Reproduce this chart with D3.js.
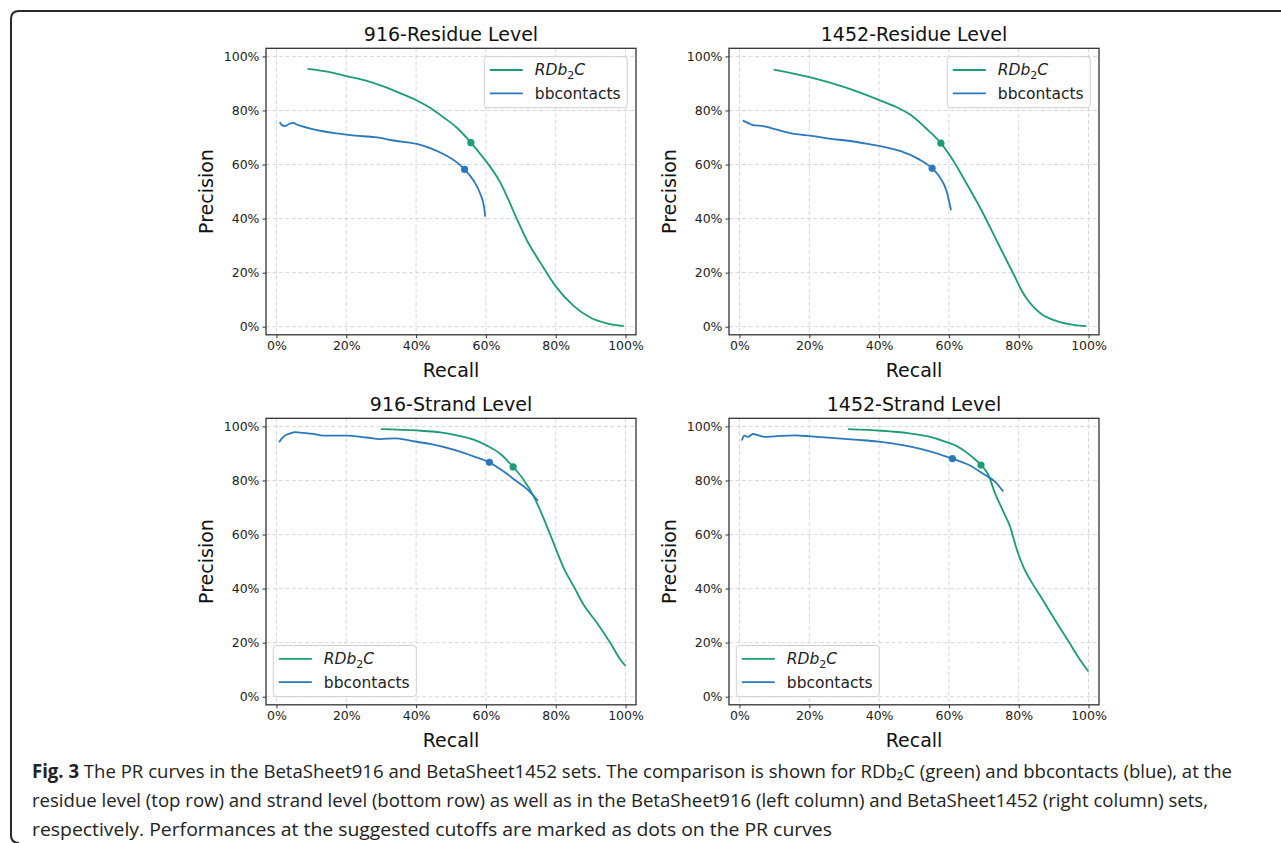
<!DOCTYPE html>
<html>
<head>
<meta charset="utf-8">
<script src="https://cdn.jsdelivr.net/npm/d3@7"></script>
<style>
  body { margin: 0; background: #fff; }
  svg { display: block; }
</style>
</head>
<body>
<div id="chart"></div>
<script>
// panel titles and ticks
var titles = ['916-Residue Level', '1452-Residue Level', '916-Strand Level', '1452-Strand Level'];
var tickValues = [0, 0.2, 0.4, 0.6, 0.8, 1.0];

// [recall, precision]
var res916Rdb = [[0.089, 0.954], [0.153, 0.942], [0.201, 0.927], [0.254, 0.911], [0.306, 0.889], [0.354, 0.864],
  [0.402, 0.837], [0.440, 0.810], [0.478, 0.775], [0.517, 0.736], [0.557, 0.681], [0.584, 0.639],
  [0.641, 0.534], [0.689, 0.398], [0.718, 0.318], [0.756, 0.237], [0.799, 0.151], [0.852, 0.076], [0.900, 0.033],
  [0.947, 0.012], [0.995, 0.002]];
var res916Bb = [[0.0095, 0.757], [0.014, 0.748], [0.024, 0.742], [0.036, 0.750], [0.048, 0.754], [0.058, 0.748],
  [0.072, 0.742], [0.100, 0.732], [0.129, 0.724], [0.167, 0.716], [0.225, 0.707], [0.282, 0.701], [0.340, 0.688],
  [0.402, 0.676], [0.440, 0.661], [0.478, 0.639], [0.517, 0.608], [0.539, 0.582], [0.565, 0.540], [0.584, 0.491],
  [0.595, 0.441], [0.598, 0.407]];
var res1452Rdb = [[0.098, 0.951], [0.201, 0.923], [0.301, 0.886], [0.399, 0.839], [0.445, 0.815], [0.493, 0.781],
  [0.531, 0.738], [0.577, 0.679], [0.603, 0.633], [0.646, 0.540], [0.694, 0.429], [0.742, 0.305], [0.790, 0.182],
  [0.809, 0.132], [0.828, 0.095], [0.847, 0.067], [0.866, 0.046], [0.914, 0.019], [0.962, 0.006], [0.993, 0.002]];
var res1452Bb = [[0.0095, 0.763], [0.019, 0.757], [0.034, 0.748], [0.072, 0.741], [0.110, 0.728], [0.158, 0.713],
  [0.206, 0.706], [0.263, 0.695], [0.311, 0.688], [0.368, 0.676], [0.416, 0.664], [0.464, 0.649], [0.512, 0.621],
  [0.552, 0.586], [0.574, 0.553], [0.593, 0.503], [0.606, 0.431]];
var str916Rdb = [[0.299, 0.990], [0.402, 0.985], [0.469, 0.978], [0.517, 0.967], [0.565, 0.951], [0.603, 0.929],
  [0.641, 0.899], [0.678, 0.850], [0.708, 0.803], [0.737, 0.741], [0.765, 0.661], [0.794, 0.568], [0.823, 0.476],
  [0.852, 0.407], [0.880, 0.340], [0.919, 0.272], [0.957, 0.198], [0.986, 0.136], [1.000, 0.114]];
var str916Bb = [[0.0075, 0.941], [0.014, 0.953], [0.024, 0.966], [0.038, 0.973], [0.053, 0.979], [0.076, 0.976],
  [0.105, 0.972], [0.134, 0.966], [0.201, 0.966], [0.258, 0.959], [0.297, 0.953], [0.340, 0.956], [0.383, 0.947],
  [0.440, 0.935], [0.507, 0.914], [0.565, 0.889], [0.610, 0.867], [0.651, 0.833], [0.689, 0.796], [0.718, 0.768],
  [0.749, 0.725]];
var str1452Rdb = [[0.311, 0.990], [0.407, 0.984], [0.483, 0.975], [0.541, 0.963], [0.589, 0.944], [0.627, 0.924],
  [0.665, 0.889], [0.692, 0.857], [0.713, 0.821], [0.732, 0.753], [0.756, 0.685], [0.775, 0.630], [0.795, 0.543],
  [0.813, 0.481], [0.833, 0.432], [0.866, 0.364], [0.904, 0.284], [0.943, 0.204], [0.976, 0.136], [1.000, 0.093]];
var str1452Bb = [[0.0067, 0.948], [0.014, 0.966], [0.024, 0.961], [0.038, 0.972], [0.057, 0.966], [0.072, 0.961],
  [0.100, 0.963], [0.158, 0.967], [0.206, 0.963], [0.273, 0.957], [0.330, 0.951], [0.397, 0.944], [0.464, 0.932],
  [0.522, 0.916], [0.610, 0.881], [0.656, 0.858], [0.703, 0.821], [0.732, 0.796], [0.756, 0.759]];

// suggested cutoffs (dots), one per panel
var cutoffRdb = [[0.557, 0.681], [0.577, 0.679], [0.678, 0.850], [0.692, 0.857]];
var cutoffBb = [[0.539, 0.582], [0.552, 0.586], [0.610, 0.867], [0.610, 0.881]];

var rdbSeries = [res916Rdb, res1452Rdb, str916Rdb, str1452Rdb];
var bbSeries = [res916Bb, res1452Bb, str916Bb, str1452Bb];

var green = '#1b9c77';
var blue = '#2a79bf';
var font = 'DejaVu Sans, sans-serif';

// axes boxes (left, top) for each panel
var boxes = [
  { x: 266, y: 48.3, legend: 'tr' },
  { x: 729, y: 48.3, legend: 'tr' },
  { x: 266, y: 418.3, legend: 'bl' },
  { x: 729, y: 418.3, legend: 'bl' }
];
var axW = 370, axH = 286.5;

var svg = d3.select('#chart')
  .append('svg')
  .attr('width', 1281)
  .attr('height', 843);

// figure frame with rounded left corners
svg.append('path')
  .attr('d', 'M1290,11 L19,11 Q11,11 11,19 L11,835 Q11,843 19,843')
  .attr('fill', 'none')
  .attr('stroke', '#2a2a2a')
  .attr('stroke-width', 2);

var xScale = d3.scaleLinear().domain([-0.03, 1.03]).range([0, axW]);
var yScale = d3.scaleLinear().domain([-0.03, 1.03]).range([axH, 0]);

var line = d3.line()
  .x(function (d) { return xScale(d[0]); })
  .y(function (d) { return yScale(d[1]); })
  .curve(d3.curveMonotoneX);

function pct(d) { return Math.round(d * 100) + '%'; }

boxes.forEach(function (b, i) {
  var g = svg.append('g').attr('transform', 'translate(' + b.x + ',' + b.y + ')');

  // grid
  g.append('g')
    .selectAll('line.gx')
    .data(tickValues).enter()
    .append('line')
    .attr('x1', function (d) { return xScale(d); })
    .attr('x2', function (d) { return xScale(d); })
    .attr('y1', 0).attr('y2', axH)
    .attr('stroke', '#d4d4d4').attr('stroke-width', 0.9).attr('stroke-dasharray', '4,2.5');
  g.append('g')
    .selectAll('line.gy')
    .data(tickValues).enter()
    .append('line')
    .attr('y1', function (d) { return yScale(d); })
    .attr('y2', function (d) { return yScale(d); })
    .attr('x1', 0).attr('x2', axW)
    .attr('stroke', '#d4d4d4').attr('stroke-width', 0.9).attr('stroke-dasharray', '4,2.5');

  // curves
  g.append('path')
    .attr('d', line(rdbSeries[i]))
    .attr('fill', 'none').attr('stroke', green).attr('stroke-width', 1.8);
  g.append('path')
    .attr('d', line(bbSeries[i]))
    .attr('fill', 'none').attr('stroke', blue).attr('stroke-width', 1.8);

  // cutoff dots
  g.append('circle')
    .attr('cx', xScale(cutoffRdb[i][0])).attr('cy', yScale(cutoffRdb[i][1]))
    .attr('r', 3.6).attr('fill', green);
  g.append('circle')
    .attr('cx', xScale(cutoffBb[i][0])).attr('cy', yScale(cutoffBb[i][1]))
    .attr('r', 3.6).attr('fill', blue);

  // axes
  var axisX = d3.axisBottom(xScale).tickValues(tickValues).tickSize(3.5).tickPadding(3).tickFormat(pct);
  var axisY = d3.axisLeft(yScale).tickValues(tickValues).tickSize(3.5).tickPadding(3).tickFormat(pct);
  var gx = g.append('g').attr('transform', 'translate(0,' + axH + ')').call(axisX);
  var gy = g.append('g').call(axisY);
  [gx, gy].forEach(function (a) {
    a.select('.domain').remove();
    a.selectAll('line').attr('stroke', '#333');
    a.selectAll('text').attr('fill', '#222').style('font-family', font).style('font-size', '12.5px');
  });

  // frame
  g.append('rect')
    .attr('width', axW).attr('height', axH)
    .attr('fill', 'none').attr('stroke', '#333').attr('stroke-width', 1.3);

  // title and labels
  g.append('text')
    .attr('x', axW / 2).attr('y', -7)
    .attr('text-anchor', 'middle')
    .style('font-family', font).style('font-size', '19px').attr('fill', '#111')
    .text(titles[i]);
  g.append('text')
    .attr('x', axW / 2).attr('y', axH + 42.5)
    .attr('text-anchor', 'middle')
    .style('font-family', font).style('font-size', '19px').attr('fill', '#111')
    .text('Recall');
  g.append('text')
    .attr('transform', 'translate(-53,' + (axH / 2) + ') rotate(-90)')
    .attr('text-anchor', 'middle')
    .style('font-family', font).style('font-size', '19px').attr('fill', '#111')
    .text('Precision');

  // legend
  var lw = 143, lh = 51;
  var lx = b.legend === 'tr' ? axW - 8.7 - lw : 7.3;
  var ly = b.legend === 'tr' ? 8.4 : axH - 8.3 - lh;
  var lg = g.append('g').attr('transform', 'translate(' + lx + ',' + ly + ')');
  lg.append('rect')
    .attr('width', lw).attr('height', lh).attr('rx', 3)
    .attr('fill', 'rgba(255,255,255,0.85)').attr('stroke', '#d0d0d0');
  [green, blue].forEach(function (c, k) {
    lg.append('line')
      .attr('x1', 5.5).attr('x2', 38.5)
      .attr('y1', 13.3 + k * 23.3).attr('y2', 13.3 + k * 23.3)
      .attr('stroke', c).attr('stroke-width', 1.8);
  });
  var t1 = lg.append('text')
    .attr('x', 50.5).attr('y', 18.8)
    .style('font-family', font).style('font-size', '15.5px').attr('fill', '#222');
  t1.append('tspan').style('font-style', 'italic').text('RDb');
  t1.append('tspan').attr('dy', 3.5).style('font-size', '11px').text('2');
  t1.append('tspan').attr('dy', -3.5).style('font-style', 'italic').text('C');
  lg.append('text')
    .attr('x', 50.5).attr('y', 42)
    .style('font-family', font).style('font-size', '15.5px').attr('fill', '#222')
    .text('bbcontacts');
});

// caption
var capFont = 'Open Sans, Noto Sans, sans-serif';
var cap1 = svg.append('text')
  .attr('x', 32).attr('y', 778)
  .attr('textLength', 1200).attr('lengthAdjust', 'spacingAndGlyphs')
  .style('font-family', capFont).style('font-size', '19px').attr('fill', '#222');
cap1.append('tspan').style('font-weight', 'bold').text('Fig. 3');
cap1.append('tspan').text(' The PR curves in the BetaSheet916 and BetaSheet1452 sets. The comparison is shown for RDb\u2082C (green) and bbcontacts (blue), at the');

svg.append('text')
  .attr('x', 32).attr('y', 807)
  .attr('textLength', 1176).attr('lengthAdjust', 'spacingAndGlyphs')
  .style('font-family', capFont).style('font-size', '19px').attr('fill', '#222')
  .text('residue level (top row) and strand level (bottom row) as well as in the BetaSheet916 (left column) and BetaSheet1452 (right column) sets,');

svg.append('text')
  .attr('x', 32).attr('y', 836)
  .attr('textLength', 800).attr('lengthAdjust', 'spacingAndGlyphs')
  .style('font-family', capFont).style('font-size', '19px').attr('fill', '#222')
  .text('respectively. Performances at the suggested cutoffs are marked as dots on the PR curves');
</script>
</body>
</html>
